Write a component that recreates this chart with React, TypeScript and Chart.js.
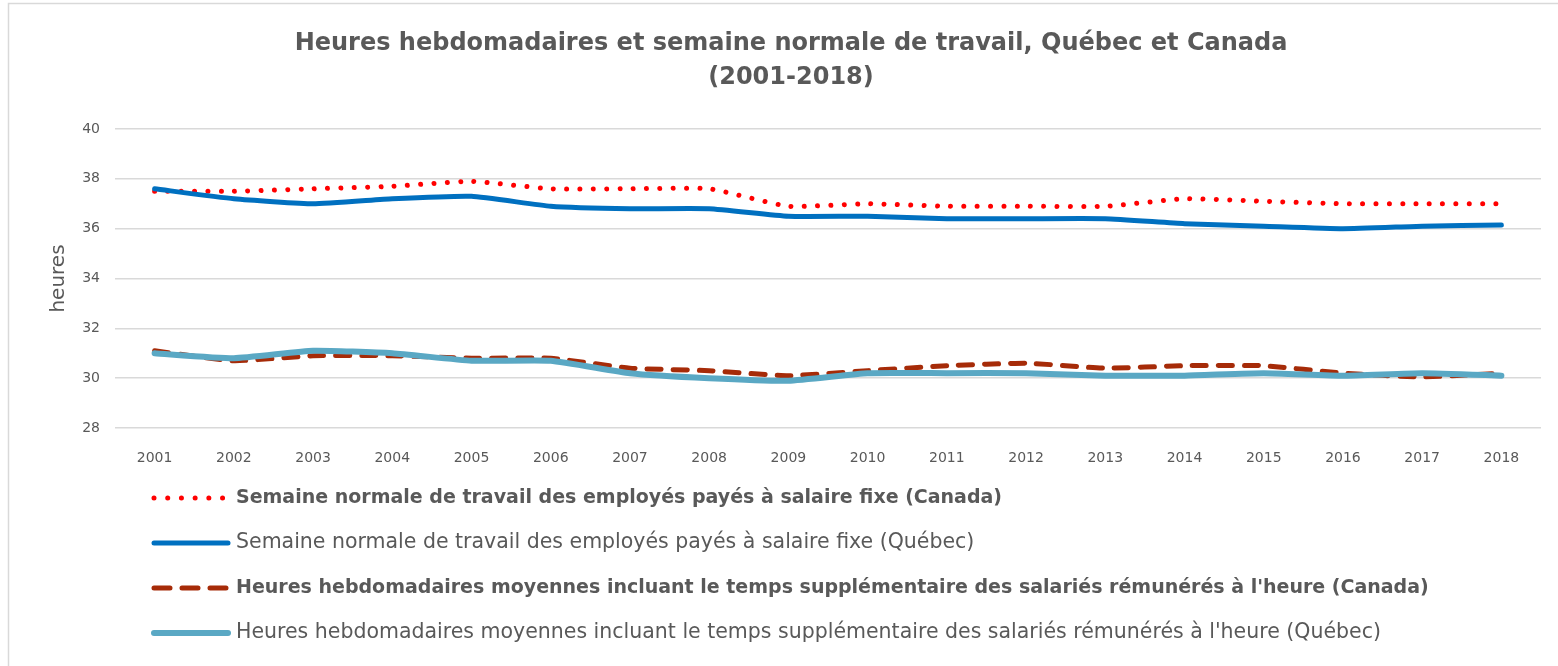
import React, { useEffect, useRef } from 'react';
import { Chart, registerables } from 'chart.js';

Chart.register(...registerables);

const years = ['2001', '2002', '2003', '2004', '2005', '2006', '2007', '2008', '2009', '2010', '2011', '2012', '2013', '2014', '2015', '2016', '2017', '2018'];
const canadaFixed = [37.5, 37.5, 37.6, 37.7, 37.9, 37.6, 37.6, 37.6, 36.9, 37.0, 36.9, 36.9, 36.9, 37.2, 37.1, 37.0, 37.0, 37.0];
const quebecFixed = [37.6, 37.2, 37.0, 37.2, 37.3, 36.9, 36.8, 36.8, 36.5, 36.5, 36.4, 36.4, 36.4, 36.2, 36.1, 36.0, 36.1, 36.15];
const canadaHourly = [31.1, 30.7, 30.9, 30.9, 30.8, 30.8, 30.4, 30.3, 30.1, 30.3, 30.5, 30.6, 30.4, 30.5, 30.5, 30.2, 30.05, 30.2];
const quebecHourly = [31.0, 30.8, 31.1, 31.0, 30.7, 30.7, 30.2, 30.0, 29.9, 30.2, 30.2, 30.2, 30.1, 30.1, 30.2, 30.1, 30.2, 30.1];

const titleLines = ['Heures hebdomadaires et semaine normale de travail, Québec et Canada', '(2001-2018)'];
const seriesLabels = [
  'Semaine normale de travail des employés payés à salaire fixe (Canada)',
  'Semaine normale de travail des employés payés à salaire fixe (Québec)',
  "Heures hebdomadaires moyennes incluant le temps supplémentaire des salariés rémunérés à l'heure (Canada)",
  "Heures hebdomadaires moyennes incluant le temps supplémentaire des salariés rémunérés à l'heure (Québec)",
];
const boldLegend = [true, false, true, false];
const yAxisTitle = 'heures';
const yMin = 28;
const yMax = 40;
const yStep = 2;

const FONT = '"DejaVu Sans", Tahoma, sans-serif';
const TEXT = '#595959';

const decorPlugin = {
  id: 'decor',
  beforeDraw(chart: any) {
    const ctx = chart.ctx;
    ctx.save();
    ctx.fillStyle = '#ffffff';
    ctx.fillRect(0, 0, chart.width, chart.height);
    ctx.strokeStyle = '#d9d9d9';
    ctx.lineWidth = 1.5;
    ctx.strokeRect(8.5, 3.5, 1600, 800);
    ctx.restore();
  },
  afterDraw(chart: any) {
    const ctx = chart.ctx;
    ctx.save();
    // title
    ctx.fillStyle = TEXT;
    ctx.textAlign = 'center';
    ctx.textBaseline = 'middle';
    ctx.font = `bold 24px ${FONT}`;
    ctx.fillText(titleLines[0], 791, 44);
    ctx.fillText(titleLines[1], 791, 78);
    // legend
    chart.data.datasets.forEach((ds: any, i: number) => {
      const y = 498 + i * 45;
      ctx.save();
      ctx.strokeStyle = ds.borderColor;
      ctx.lineWidth = ds.borderWidth;
      ctx.lineCap = ds.borderCapStyle || 'butt';
      ctx.setLineDash(ds.legendDash || ds.borderDash || []);
      ctx.beginPath();
      ctx.moveTo(154, y);
      ctx.lineTo(228, y);
      ctx.stroke();
      ctx.restore();
      ctx.fillStyle = TEXT;
      ctx.textAlign = 'left';
      ctx.textBaseline = 'middle';
      ctx.font = boldLegend[i] ? `bold 19px ${FONT}` : `20.5px ${FONT}`;
      ctx.fillText(ds.label, 236, y);
    });
    ctx.restore();
  },
};

export default function App() {
  const ref = useRef<HTMLCanvasElement | null>(null);
  useEffect(() => {
    if (!ref.current) return;
    const chart = new Chart(ref.current, {
      type: 'line',
      data: {
        labels: years,
        datasets: [
          {
            label: seriesLabels[0],
            data: canadaFixed,
            borderColor: '#ff0000',
            borderWidth: 5,
            borderCapStyle: 'round',
            borderDash: [0.01, 13.3],
            legendDash: [0.01, 13.7],
            pointRadius: 0,
            tension: 0.15,
            order: 4,
          } as any,
          {
            label: seriesLabels[1],
            data: quebecFixed,
            borderColor: '#0070c0',
            borderWidth: 5,
            borderCapStyle: 'round',
            pointRadius: 0,
            tension: 0.15,
            order: 3,
          },
          {
            label: seriesLabels[2],
            data: canadaHourly,
            borderColor: '#a62b08',
            borderWidth: 5,
            borderCapStyle: 'round',
            borderDash: [14, 12],
            legendDash: [16, 12],
            pointRadius: 0,
            tension: 0.15,
            order: 2,
          } as any,
          {
            label: seriesLabels[3],
            data: quebecHourly,
            borderColor: '#5aa8c4',
            borderWidth: 6,
            borderCapStyle: 'round',
            pointRadius: 0,
            tension: 0.15,
            order: 1,
          },
        ],
      },
      options: {
        animation: false,
        responsive: false,
        maintainAspectRatio: false,
        layout: { padding: { top: 129, right: 17, bottom: 198, left: 0 } },
        plugins: {
          legend: { display: false },
          title: { display: false },
          tooltip: { enabled: false },
        },
        scales: {
          x: {
            offset: true,
            grid: { display: false },
            border: { display: false },
            ticks: { color: TEXT, font: { family: FONT, size: 14 }, padding: 14, maxRotation: 0 },
            afterFit: (s: any) => { s.height = 40; },
          },
          y: {
            min: yMin,
            max: yMax,
            ticks: { stepSize: yStep, color: TEXT, font: { family: FONT, size: 14 }, padding: 15 },
            grid: { color: '#d9d9d9', lineWidth: 1.5, drawTicks: false },
            border: { display: false },
            title: { display: true, text: yAxisTitle, color: TEXT, font: { family: FONT, size: 20 }, padding: { top: 47, bottom: 0 } },
            afterFit: (s: any) => { s.width = 115; },
          },
        },
      },
      plugins: [decorPlugin],
    });
    return () => chart.destroy();
  }, []);
  return (
    <canvas
      ref={ref}
      width={1558}
      height={666}
      style={{ position: 'absolute', left: 0, top: 0, width: 1558, height: 666 }}
    />
  );
}
